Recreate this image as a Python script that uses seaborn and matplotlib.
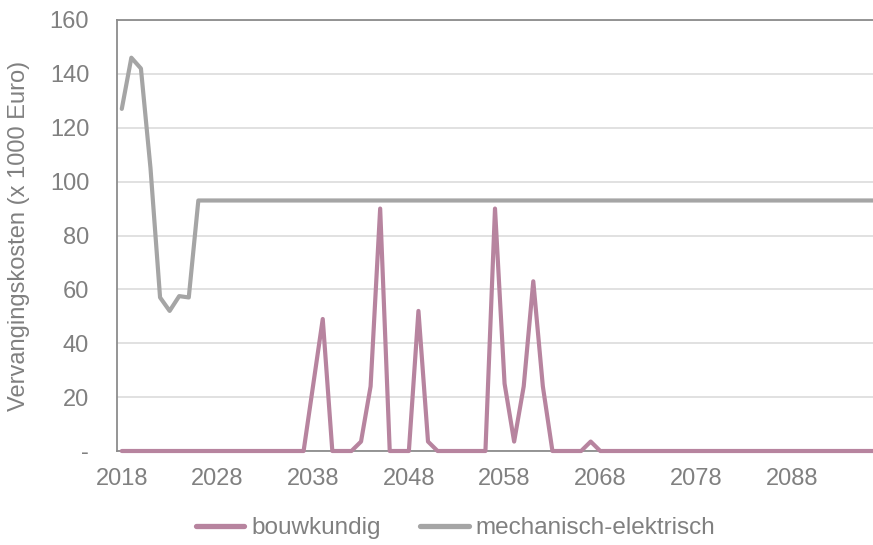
import matplotlib
matplotlib.use("Agg")
import matplotlib.pyplot as plt
from matplotlib.lines import Line2D
import seaborn as sns
import pandas as pd

# Jaren (categorieën op de x-as)
years = list(range(2018, 2098))

# Vervangingskosten per jaar (x 1000 Euro)
bouwkundig = [
    0, 0, 0, 0, 0, 0, 0, 0, 0, 0,          # 2018-2027
    0, 0, 0, 0, 0, 0, 0, 0, 0, 0,          # 2028-2037
    24.5, 49, 0, 0, 0, 3.5, 24, 90, 0, 0,  # 2038-2047
    0, 52, 3.5, 0, 0, 0, 0, 0, 0, 90,      # 2048-2057
    25, 3.5, 24, 63, 24, 0, 0, 0, 0, 3.5,  # 2058-2067
    0, 0, 0, 0, 0, 0, 0, 0, 0, 0,          # 2068-2077
    0, 0, 0, 0, 0, 0, 0, 0, 0, 0,          # 2078-2087
    0, 0, 0, 0, 0, 0, 0, 0, 0, 0,          # 2088-2097
]
mechanisch_elektrisch = [
    127, 146, 142, 105, 57, 52, 57.5, 57, 93, 93,  # 2018-2027
    93, 93, 93, 93, 93, 93, 93, 93, 93, 93,        # 2028-2037
    93, 93, 93, 93, 93, 93, 93, 93, 93, 93,        # 2038-2047
    93, 93, 93, 93, 93, 93, 93, 93, 93, 93,        # 2048-2057
    93, 93, 93, 93, 93, 93, 93, 93, 93, 93,        # 2058-2067
    93, 93, 93, 93, 93, 93, 93, 93, 93, 93,        # 2068-2077
    93, 93, 93, 93, 93, 93, 93, 93, 93, 93,        # 2078-2087
    93, 93, 93, 93, 93, 93, 93, 93, 93, 93,        # 2088-2097
]

series_names = ["bouwkundig", "mechanisch-elektrisch"]
x_tick_years = [2018, 2028, 2038, 2048, 2058, 2068, 2078, 2088]
y_ticks = [0, 20, 40, 60, 80, 100, 120, 140, 160]
y_tick_labels = ["-", "20", "40", "60", "80", "100", "120", "140", "160"]

PINK = "#B7849F"
GRAY = "#A5A5A5"
TEXT = "#808080"
colors = {series_names[0]: PINK, series_names[1]: GRAY}

sns.set_style("white")
plt.rcParams["font.family"] = ["Liberation Sans", "DejaVu Sans"]

df = pd.DataFrame({
    "jaar": years * 2,
    "kosten": bouwkundig + mechanisch_elektrisch,
    "reeks": [series_names[0]] * len(years) + [series_names[1]] * len(years),
})

W, H = 873, 545
fig = plt.figure(figsize=(W / 100, H / 100), dpi=100)
ax = fig.add_axes([117 / W, 1 - 451 / H, (W - 117) / W, (451 - 20) / H])

sns.lineplot(data=df, x="jaar", y="kosten", hue="reeks", palette=colors,
             linewidth=3.0, ax=ax, legend=False)
for ln in ax.lines:
    ln.set_clip_on(False)
    ln.set_solid_joinstyle("round")
    ln.set_solid_capstyle("round")
    ln.set_zorder(3)

ax.set_xlim(2017.5, 2096.5)
ax.set_ylim(0, 160)
ax.set_xticks(x_tick_years)
ax.set_xticklabels([str(y) for y in x_tick_years])
ax.set_yticks(y_ticks)
ax.set_yticklabels(y_tick_labels)
ax.set_xlabel("")
ax.set_ylabel("Vervangingskosten (x 1000 Euro)", fontsize=17, color=TEXT, labelpad=14)

ax.yaxis.grid(True, color="#DEDEDE", linewidth=1.3)
ax.xaxis.grid(False)
ax.set_axisbelow(True)

for side in ["top", "left", "bottom"]:
    ax.spines[side].set_visible(True)
    ax.spines[side].set_color("#8C8C8C")
    ax.spines[side].set_linewidth(1.3)
ax.spines["right"].set_visible(False)

ax.tick_params(axis="both", length=0, labelsize=17, labelcolor=TEXT)
ax.tick_params(axis="x", pad=12)
ax.tick_params(axis="y", pad=20)

handles = [Line2D([0], [0], color=colors[n], linewidth=3.8, solid_capstyle="round")
           for n in series_names]
fig.legend(handles, series_names, loc="center", bbox_to_anchor=(0.522, 0.031),
           ncol=2, frameon=False, fontsize=17.5, labelcolor=TEXT,
           handlelength=2.0, handletextpad=0.3, columnspacing=1.6)

fig.savefig("out.png", dpi=100)
